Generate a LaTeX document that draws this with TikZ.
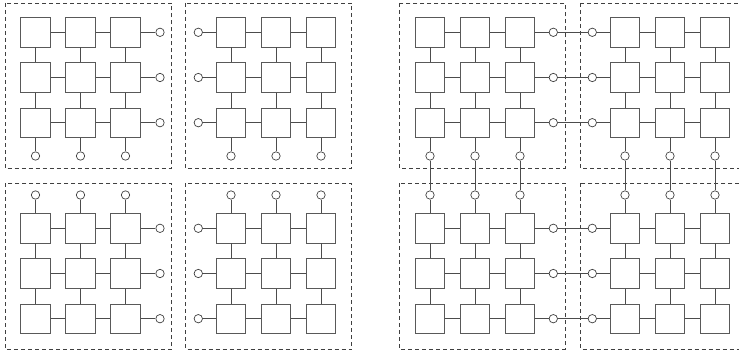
\documentclass[tikz,border=0pt]{standalone}
\tikzset{
  cell/.style={draw=black!65, line width=0.8pt, minimum size=29.5pt, inner sep=0pt, fill=white},
  port/.style={circle, draw=black!75, line width=0.7pt, minimum size=8.4pt, inner sep=0pt, fill=white},
  link/.style={draw=black!70, line width=0.8pt},
  frame/.style={draw=black!75, line width=0.7pt, dash pattern=on 4pt off 3pt},
}
% 3x3 mesh of cells: #1 name, #2 x of first column, #3 y of first row
\newcommand\meshgrid[3]{%
  \foreach \r in {0,1,2}
    \foreach \c in {0,1,2}
      \node[cell] (#1-\r-\c) at ({#2+45*\c},{#3+45.2*\r}) {};
  \foreach \r in {0,1,2}
    \foreach \c/\d in {0/1,1/2}{
      \draw[link] (#1-\r-\c) -- (#1-\r-\d);
      \draw[link] (#1-\c-\r) -- (#1-\d-\r);
    }%
}
% ports beside a column: #1 mesh, #2 tag, #3 column index, #4 port x, #5 first row y
\newcommand\rowports[5]{%
  \foreach \r in {0,1,2}{
    \node[port] (#1-#2\r) at (#4,{#5+45.2*\r}) {};
    \draw[link] (#1-\r-#3) -- (#1-#2\r);
  }%
}
% ports beside a row: #1 mesh, #2 tag, #3 row index, #4 port y, #5 first column x
\newcommand\colports[5]{%
  \foreach \c in {0,1,2}{
    \node[port] (#1-#2\c) at ({#5+45*\c},#4) {};
    \draw[link] (#1-#3-\c) -- (#1-#2\c);
  }%
}
\begin{document}
\begin{tikzpicture}[x=1pt,y=-1pt]
\useasboundingbox (0,0) rectangle (739,353);
\clip (0,0) rectangle (739,353);

% dashed partition frames
\foreach \x/\xx in {5/171.7, 185.5/351.7, 399.3/565, 580.7/746}
  \foreach \y/\yy in {3/168.3, 183.3/349.3}
    \draw[frame] (\x,\y) rectangle (\xx,\yy);

% left half: four separate meshes
\meshgrid{a}{35.5}{32.3}
\rowports{a}{e}{2}{160}{32.3}
\colports{a}{s}{2}{156}{35.5}

\meshgrid{b}{231}{32.3}
\rowports{b}{w}{0}{198.3}{32.3}
\colports{b}{s}{2}{156}{231}

\meshgrid{c}{35.5}{228.3}
\colports{c}{n}{0}{195}{35.5}
\rowports{c}{e}{2}{160}{228.3}

\meshgrid{d}{231}{228.3}
\rowports{d}{w}{0}{198.3}{228.3}
\colports{d}{n}{0}{195}{231}

% right half: four meshes joined through their ports
\meshgrid{e}{430}{32.3}
\rowports{e}{e}{2}{553.3}{32.3}
\colports{e}{s}{2}{156}{430}

\meshgrid{f}{625}{32.3}
\rowports{f}{w}{0}{592.3}{32.3}
\colports{f}{s}{2}{156}{625}

\meshgrid{g}{430}{228.3}
\colports{g}{n}{0}{195}{430}
\rowports{g}{e}{2}{553.3}{228.3}

\meshgrid{h}{625}{228.3}
\rowports{h}{w}{0}{592.3}{228.3}
\colports{h}{n}{0}{195}{625}

\foreach \i in {0,1,2}{
  \draw[link] (e-e\i) -- (f-w\i);
  \draw[link] (g-e\i) -- (h-w\i);
  \draw[link] (e-s\i) -- (g-n\i);
  \draw[link] (f-s\i) -- (h-n\i);
}
\end{tikzpicture}
\end{document}
